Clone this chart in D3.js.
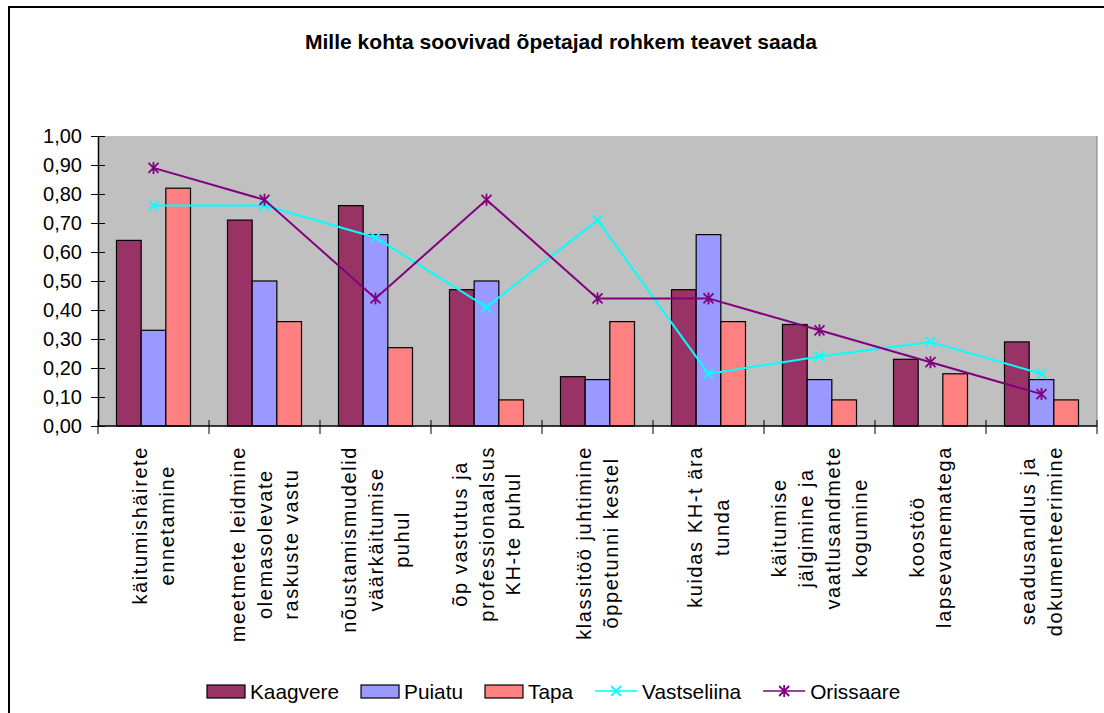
<!DOCTYPE html>
<html>
<head>
<meta charset="utf-8">
<script src="https://cdn.jsdelivr.net/npm/d3@7"></script>
<style>
  body { margin: 0; background: #fff; }
  svg { display: block; font-family: "Liberation Sans", Arial, sans-serif; }
</style>
</head>
<body>
<div id="chart"></div>
<script>
// andmed
var categories = [
  ["käitumishäirete", "ennetamine"],
  ["meetmete leidmine", "olemasolevate", "raskuste vastu"],
  ["nõustamismudelid", "väärkäitumise", "puhul"],
  ["õp vastutus ja", "professionaalsus", "KH-te puhul"],
  ["klassitöö juhtimine", "õppetunni kestel"],
  ["kuidas KH-t ära", "tunda"],
  ["käitumise", "jälgimine ja", "vaatlusandmete", "kogumine"],
  ["koostöö", "lapsevanematega"],
  ["seadusandlus ja", "dokumenteerimine"]
];
var kaagvere    = [0.64, 0.71, 0.76, 0.47, 0.17, 0.47, 0.35, 0.23, 0.29];
var puiatu      = [0.33, 0.50, 0.66, 0.50, 0.16, 0.66, 0.16, 0.00, 0.16];
var tapa        = [0.82, 0.36, 0.27, 0.09, 0.36, 0.36, 0.09, 0.18, 0.09];
var vastseliina = [0.76, 0.76, 0.65, 0.41, 0.71, 0.18, 0.24, 0.29, 0.18];
var orissaare   = [0.89, 0.78, 0.44, 0.78, 0.44, 0.44, 0.33, 0.22, 0.11];
var yTicks = [0, 0.1, 0.2, 0.3, 0.4, 0.5, 0.6, 0.7, 0.8, 0.9, 1.0];
var title = "Mille kohta soovivad õpetajad rohkem teavet saada";

var barSeries = [
  {name: "Kaagvere", values: kaagvere, color: "#993366"},
  {name: "Puiatu", values: puiatu, color: "#9999FF"},
  {name: "Tapa", values: tapa, color: "#FF8080"}
];
var lineSeries = [
  {name: "Vastseliina", values: vastseliina, color: "#00FFFF", marker: "x"},
  {name: "Orissaare", values: orissaare, color: "#800080", marker: "star"}
];

var W = 1104, H = 713;
var svg = d3.select("#chart").append("svg").attr("width", W).attr("height", H);

// raam
svg.append("path")
  .attr("d", "M9," + H + " V7 H" + W)
  .attr("fill", "none").attr("stroke", "#000").attr("stroke-width", 2);

var pLeft = 98, pRight = 1097, pTop = 136, pBottom = 426;

var x = d3.scaleBand().domain(d3.range(categories.length)).range([pLeft, pRight]);
var x1 = d3.scaleBand().domain(d3.range(barSeries.length))
  .range([0, x.bandwidth()]).paddingInner(0).paddingOuter(0.75);
var y = d3.scaleLinear().domain([0, 1]).range([pBottom, pTop]);

// pealkiri
svg.append("text")
  .attr("x", 561).attr("y", 49)
  .attr("text-anchor", "middle")
  .attr("font-size", 21).attr("font-weight", "bold")
  .attr("textLength", 512).attr("lengthAdjust", "spacingAndGlyphs")
  .text(title);

// joonisala taust
svg.append("rect")
  .attr("x", pLeft).attr("y", pTop)
  .attr("width", pRight - pLeft).attr("height", pBottom - pTop)
  .attr("fill", "#C0C0C0");
svg.append("line")
  .attr("x1", pRight).attr("x2", pRight).attr("y1", pTop).attr("y2", pBottom)
  .attr("stroke", "#808080").attr("stroke-width", 1);

// tulbad (nullväärtusi ei joonistata)
barSeries.forEach(function(s, si) {
  var pts = s.values.map(function(v, i) { return {v: v, i: i}; })
    .filter(function(d) { return d.v > 0; });
  svg.append("g").selectAll("rect")
    .data(pts)
    .enter().append("rect")
    .attr("x", function(d) { return x(d.i) + x1(si); })
    .attr("y", function(d) { return y(d.v); })
    .attr("width", x1.bandwidth())
    .attr("height", function(d) { return y(0) - y(d.v); })
    .attr("fill", s.color)
    .attr("stroke", "#000").attr("stroke-width", 1.2);
});

// y telg
var yAxis = d3.axisLeft(y).tickValues(yTicks).tickSize(0)
  .tickFormat(function(d) { return d3.format(".2f")(d).replace(".", ","); });
var gy = svg.append("g").attr("transform", "translate(" + pLeft + ",0)").call(yAxis);
gy.select(".domain").attr("stroke", "#000").attr("stroke-width", 1.5);
gy.selectAll(".tick text").attr("x", -16).attr("font-size", 20)
  .attr("font-family", "Liberation Sans, Arial, sans-serif").attr("fill", "#000");
gy.selectAll(".tick").append("line")
  .attr("x1", -7).attr("x2", 7).attr("stroke", "#000").attr("stroke-width", 1);

// x telg
svg.append("line")
  .attr("x1", pLeft).attr("x2", pRight).attr("y1", pBottom).attr("y2", pBottom)
  .attr("stroke", "#000").attr("stroke-width", 1.5);
svg.append("g").selectAll("line")
  .data(d3.range(categories.length + 1))
  .enter().append("line")
  .attr("x1", function(i) { return pLeft + i * x.step(); })
  .attr("x2", function(i) { return pLeft + i * x.step(); })
  .attr("y1", pBottom - 6).attr("y2", pBottom + 8)
  .attr("stroke", "#000").attr("stroke-width", 1);

// kategooriate sildid (pööratud)
var lineH = 26.7, labelTop = 446;
categories.forEach(function(lines, i) {
  var g = svg.append("g");
  var t = g.append("text")
    .attr("text-anchor", "middle")
    .attr("font-size", 20)
    .attr("letter-spacing", 1.6)
    .attr("fill", "#000");
  lines.forEach(function(l, k) {
    t.append("tspan")
      .attr("x", 0)
      .attr("y", (k - (lines.length - 1) / 2) * lineH)
      .attr("dy", "0.35em")
      .text(l);
  });
  var maxLen = 0;
  t.selectAll("tspan").each(function() {
    maxLen = Math.max(maxLen, this.getComputedTextLength());
  });
  var cx = x(i) + x.bandwidth() / 2;
  g.attr("transform", "translate(" + cx + "," + (labelTop + maxLen / 2) + ") rotate(-90)");
});

// jooned
var lineGen = d3.line()
  .x(function(d, i) { return x(i) + x.bandwidth() / 2; })
  .y(function(d) { return y(d); });

function marker(g, type, color, cx, cy) {
  var r = 5;
  var p = "M" + (cx - r) + "," + (cy - r) + "L" + (cx + r) + "," + (cy + r) +
          "M" + (cx - r) + "," + (cy + r) + "L" + (cx + r) + "," + (cy - r);
  if (type === "star") p += "M" + cx + "," + (cy - r - 1) + "L" + cx + "," + (cy + r + 1);
  g.append("path").attr("d", p).attr("stroke", color).attr("stroke-width", 1.8).attr("fill", "none");
}

lineSeries.forEach(function(s) {
  var g = svg.append("g");
  g.append("path")
    .datum(s.values)
    .attr("d", lineGen)
    .attr("fill", "none")
    .attr("stroke", s.color).attr("stroke-width", 2);
  s.values.forEach(function(v, i) {
    marker(g, s.marker, s.color, x(i) + x.bandwidth() / 2, y(v));
  });
});

// legend
var legend = svg.append("g");
var lx = 207, ly = 691;
barSeries.concat(lineSeries).forEach(function(s) {
  if (s.marker) {
    legend.append("line")
      .attr("x1", lx).attr("x2", lx + 42).attr("y1", ly).attr("y2", ly)
      .attr("stroke", s.color).attr("stroke-width", 1.5);
    marker(legend, s.marker, s.color, lx + 21, ly);
  } else {
    legend.append("rect")
      .attr("x", lx).attr("y", ly - 6).attr("width", 38).attr("height", 13)
      .attr("fill", s.color).attr("stroke", "#000").attr("stroke-width", 1.2);
  }
  var tx = lx + (s.marker ? 47 : 43);
  var t = legend.append("text")
    .attr("x", tx).attr("y", ly + 7.5)
    .attr("font-size", 20.8).attr("fill", "#000")
    .text(s.name);
  lx = tx + t.node().getComputedTextLength() + 22;
});
</script>
</body>
</html>
